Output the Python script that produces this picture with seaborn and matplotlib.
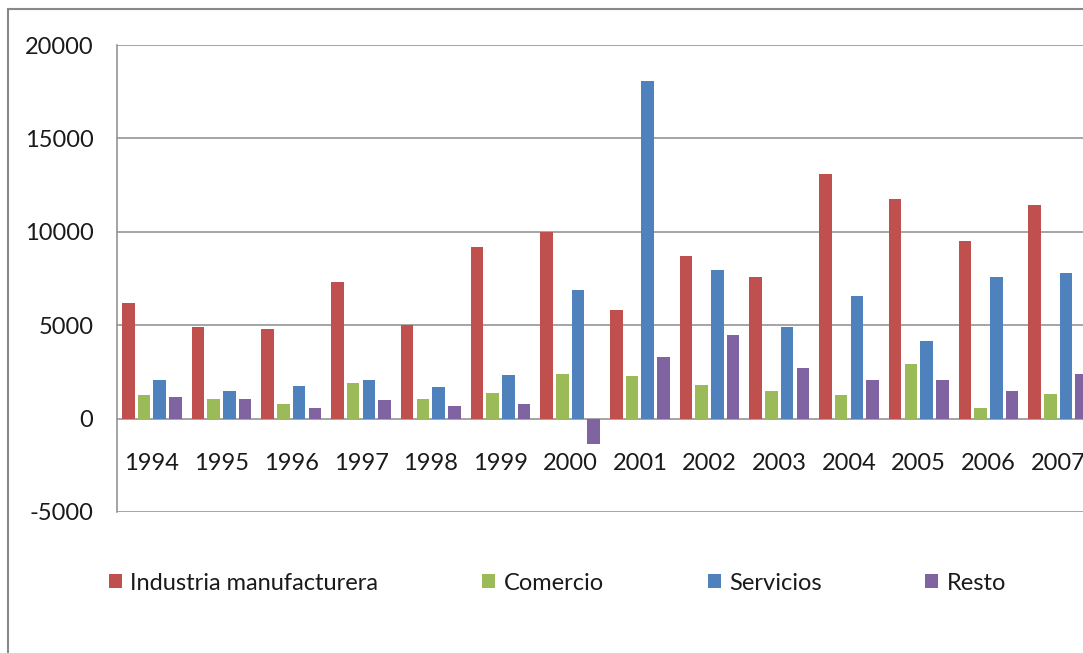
import matplotlib
matplotlib.use("Agg")
import matplotlib.pyplot as plt
import matplotlib.patches as mpatches
import seaborn as sns
import pandas as pd

years = ["1994", "1995", "1996", "1997", "1998", "1999", "2000",
         "2001", "2002", "2003", "2004", "2005", "2006", "2007"]
industria = [6190, 4900, 4820, 7300, 5000, 9160, 9980,
             5790, 8730, 7570, 13070, 11770, 9500, 11430]
comercio = [1250, 1050, 770, 1880, 1050, 1390, 2410,
            2290, 1790, 1460, 1250, 2910, 570, 1320]
servicios = [2090, 1460, 1730, 2090, 1680, 2360, 6890,
             18080, 7980, 4890, 6540, 4140, 7570, 7770]
resto = [1130, 1050, 570, 980, 700, 770, -1340,
         3300, 4500, 2700, 2090, 2090, 1460, 2410]
series_names = ["Industria manufacturera", "Comercio", "Servicios", "Resto"]
colors = ["#C0504D", "#9BBB59", "#4F81BD", "#8064A2"]
yticks = [-5000, 0, 5000, 10000, 15000, 20000]
ytick_labels = ["-5000", "0", "5000", "10000", "15000", "20000"]

rows = []
for name, vals in zip(series_names, [industria, comercio, servicios, resto]):
    for y, v in zip(years, vals):
        rows.append({"year": y, "serie": name, "valor": v})
df = pd.DataFrame(rows)

sns.set_theme(style="white")
plt.rcParams["font.family"] = ["Lato", "DejaVu Sans"]
plt.rcParams["axes.unicode_minus"] = False

W, H = 1083, 653
fig = plt.figure(figsize=(W / 100, H / 100), dpi=100)
fig.patch.set_facecolor("white")
ax = fig.add_axes([117 / W, 1 - 512 / H, (1093 - 117) / W, (512 - 45) / H])

sns.barplot(data=df, x="year", y="valor", hue="serie", order=years,
            hue_order=series_names, palette=colors, saturation=1,
            width=0.9, gap=0.2, linewidth=0, ax=ax, errorbar=None,
            legend=True)

grid_color = "#8C8C8C"
ax.set_ylim(-5000, 20000)
ax.set_xlim(-0.5, len(years) - 0.5)
ax.set_yticks(yticks)
ax.set_yticklabels(ytick_labels)
ax.yaxis.grid(True, color=grid_color, linewidth=1.1)
ax.set_axisbelow(True)
for s in ["top", "right", "bottom"]:
    ax.spines[s].set_visible(False)
ax.spines["left"].set_color(grid_color)
ax.spines["left"].set_linewidth(1.1)
ax.spines["bottom"].set_position(("data", 0))
ax.tick_params(axis="y", length=0, pad=17, labelsize=17, labelcolor="#1a1a1a")
ax.tick_params(axis="x", length=0, pad=25, labelsize=17, labelcolor="#1a1a1a")
ax.set_xlabel("")
ax.set_ylabel("")

handles, labels = ax.get_legend_handles_labels()
ax.get_legend().remove()
fig.legend(handles, labels, loc="center left",
           bbox_to_anchor=(88 / W, 1 - 583 / H), ncol=4, frameon=False,
           fontsize=17, handlelength=0.55, handleheight=0.55,
           handletextpad=0.35, columnspacing=4.4, labelcolor="#1a1a1a")

border = mpatches.Rectangle((8 / W, -0.2), 1.5, (H - 9) / H + 0.2,
                            transform=fig.transFigure, fill=False,
                            edgecolor="#888888", linewidth=1.5)
fig.patches.append(border)

fig.savefig("out.png", dpi=100)
